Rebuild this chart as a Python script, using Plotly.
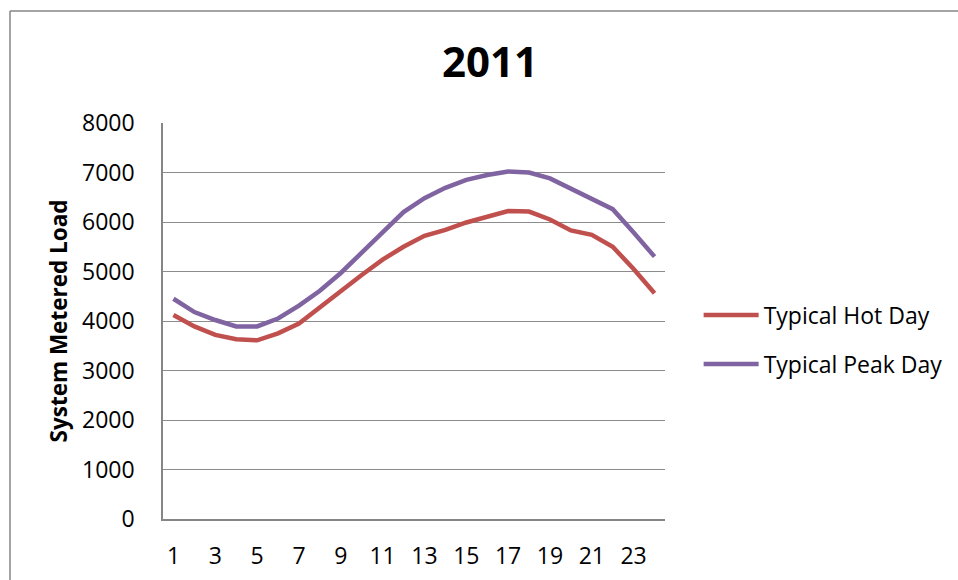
import plotly.graph_objects as go

hours = list(range(1, 25))
hot_day = [4120, 3890, 3720, 3630, 3610, 3750, 3950, 4280, 4610, 4930,
           5240, 5500, 5720, 5840, 5990, 6110, 6220, 6210, 6050, 5830,
           5740, 5500, 5050, 4560]
peak_day = [4450, 4180, 4020, 3890, 3890, 4050, 4310, 4610, 4970, 5380,
            5800, 6200, 6480, 6690, 6850, 6950, 7020, 7000, 6880, 6680,
            6470, 6260, 5790, 5300]
x_ticks = list(range(1, 24, 2))
y_ticks = list(range(0, 8001, 1000))

FONT = "Open Sans"
GRID = "#8C8C8C"
AXIS = "#868686"

fig = go.Figure()
fig.add_trace(go.Scatter(x=hours, y=hot_day, mode="lines", name="Typical Hot Day",
                         legendgroup="a",
                         line=dict(color="#C0504D", width=4.5)))
fig.add_trace(go.Scatter(x=hours, y=peak_day, mode="lines", name="Typical Peak Day",
                         legendgroup="b",
                         line=dict(color="#8064A2", width=4.5)))

fig.update_layout(
    width=958, height=580,
    margin=dict(l=163, r=293, t=123, b=61, autoexpand=False),
    paper_bgcolor="white", plot_bgcolor="white",
    font=dict(family=FONT, color="black"),
    title=dict(text="<b>2011</b>", x=0.5115, xanchor="center", y=1 - 62 / 580,
               yanchor="middle", font=dict(size=42, family=FONT, color="black")),
    legend=dict(x=1.067, xanchor="left", y=0.453, yanchor="middle",
                font=dict(size=23, family=FONT, color="black"),
                itemwidth=55,
                tracegroupgap=16, traceorder="grouped", bgcolor="rgba(0,0,0,0)"),
    showlegend=True,
)
fig.update_xaxes(range=[0.5, 24.5], tickmode="array", tickvals=x_ticks,
                 ticktext=[str(v) for v in x_ticks], showgrid=False,
                 showline=True, linecolor=AXIS, linewidth=1.5, ticks="",
                 automargin=False,
                 ticklabelstandoff=16, tickfont=dict(size=23, family=FONT, color="black"),
                 zeroline=False)
fig.update_yaxes(range=[0, 8000], tickmode="array", tickvals=y_ticks,
                 showgrid=True, gridcolor=GRID, gridwidth=1,
                 showline=True, linecolor=AXIS, linewidth=1.5, ticks="",
                 automargin=False,
                 ticklabelstandoff=22, tickfont=dict(size=23, family=FONT, color="black"),
                 zeroline=False,
                 title=dict(text="<b>System Metered Load</b>", standoff=8,
                            font=dict(size=22.5, family=FONT, color="black")))

# outer chart border (partially visible)
fig.add_shape(type="line", xref="paper", yref="paper", x0=-0.3048, x1=1.6,
              y0=1.2828, y1=1.2828, line=dict(color=AXIS, width=1.5))
fig.add_shape(type="line", xref="paper", yref="paper", x0=-0.3048, x1=-0.3048,
              y0=1.2828, y1=-0.3, line=dict(color=AXIS, width=1.5))

fig.write_html("out.html")
